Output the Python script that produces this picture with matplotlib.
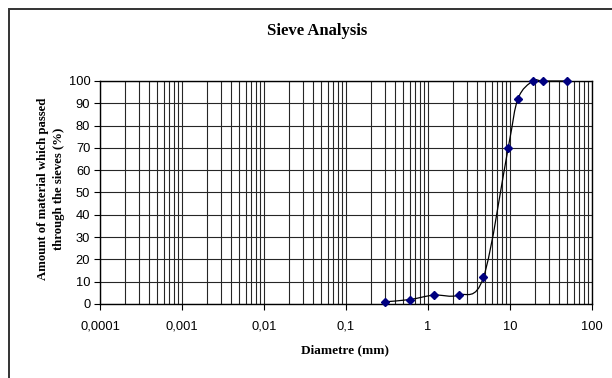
import numpy as np
import matplotlib
matplotlib.use("Agg")
import matplotlib.pyplot as plt
from matplotlib.path import Path
from matplotlib.patches import PathPatch, Rectangle
from matplotlib.ticker import FixedLocator, NullFormatter

# sieve sizes (mm) and percent passing
diametre = [0.3, 0.6, 1.18, 2.36, 4.75, 9.5, 12.5, 19, 25, 50]
passing = [1, 2, 4, 4, 12, 70, 92, 100, 100, 100]

xticks = [0.0001, 0.001, 0.01, 0.1, 1, 10, 100]
xticklabels = ["0,0001", "0,001", "0,01", "0,1", "1", "10", "100"]
yticks = list(range(0, 101, 10))

plt.rcParams["font.family"] = ["Liberation Sans", "DejaVu Sans"]

fig = plt.figure(figsize=(6.12, 3.78), dpi=100)
ax = fig.add_axes([100 / 612, 1 - 304 / 378, 492 / 612, 223 / 378])

ax.set_xscale("log")
ax.set_xlim(0.0001, 100)
ax.set_ylim(0, 100)

# grid
minors = [m * 10.0 ** e for e in range(-4, 2) for m in range(2, 10)]
ax.xaxis.set_minor_locator(FixedLocator(minors))
ax.xaxis.set_minor_formatter(NullFormatter())
ax.grid(True, which="major", axis="both", color="#262626", lw=0.8)
ax.grid(True, which="minor", axis="x", color="#262626", lw=0.8)
ax.set_axisbelow(True)

ax.set_xticks(xticks)
ax.set_xticklabels(xticklabels)
ax.set_yticks(yticks)
ax.tick_params(axis="both", which="major", direction="out", length=4,
               width=0.8, labelsize=9.3, colors="black", pad=3)
ax.tick_params(axis="x", which="minor", length=0)
ax.tick_params(axis="x", pad=8)
for s in ax.spines.values():
    s.set_linewidth(1.0)
    s.set_color("black")

# smoothed line (cardinal bezier like the spreadsheet smoothing)
u = np.log10(np.array(diametre, dtype=float))
v = np.array(passing, dtype=float)
n = len(u)
verts = [(diametre[0], passing[0])]
codes = [Path.MOVETO]
t = 1 / 6
for i in range(n - 1):
    p0 = i - 1 if i > 0 else i
    p3 = i + 2 if i + 2 < n else i + 1
    c1u = u[i] + (u[i + 1] - u[p0]) * t
    c1v = v[i] + (v[i + 1] - v[p0]) * t
    c2u = u[i + 1] - (u[p3] - u[i]) * t
    c2v = v[i + 1] - (v[p3] - v[i]) * t
    verts += [(10 ** c1u, c1v), (10 ** c2u, c2v), (diametre[i + 1], passing[i + 1])]
    codes += [Path.CURVE4] * 3
ax.add_patch(PathPatch(Path(verts, codes), fill=False, edgecolor="black",
                       lw=0.9, zorder=3, clip_on=False))

ax.plot(diametre, passing, linestyle="none", marker="D", markersize=4.3,
        color="#000080", zorder=4, clip_on=False)

fig.text(317 / 612, 1 - 31 / 378, "Sieve Analysis", ha="center", va="center",
         family="Liberation Serif", weight="bold", fontsize=12)
fig.text(345 / 612, 1 - 350 / 378, "Diametre (mm)", ha="center", va="center",
         family="Liberation Serif", weight="bold", fontsize=9.5)
fig.text(51 / 612, 1 - 189 / 378,
         "Amount of material which passed\nthrough the sieves (%)",
         ha="center", va="center", rotation=90, multialignment="center",
         family="Liberation Serif", weight="bold", fontsize=9.2, linespacing=1.4)

# outer chart border
fig.patches.append(Rectangle((9 / 612, -0.1), 1.2, 1.1 - 8.5 / 378,
                             transform=fig.transFigure, fill=False,
                             edgecolor="#333333", lw=1.4))

fig.savefig("out.png", dpi=100)
